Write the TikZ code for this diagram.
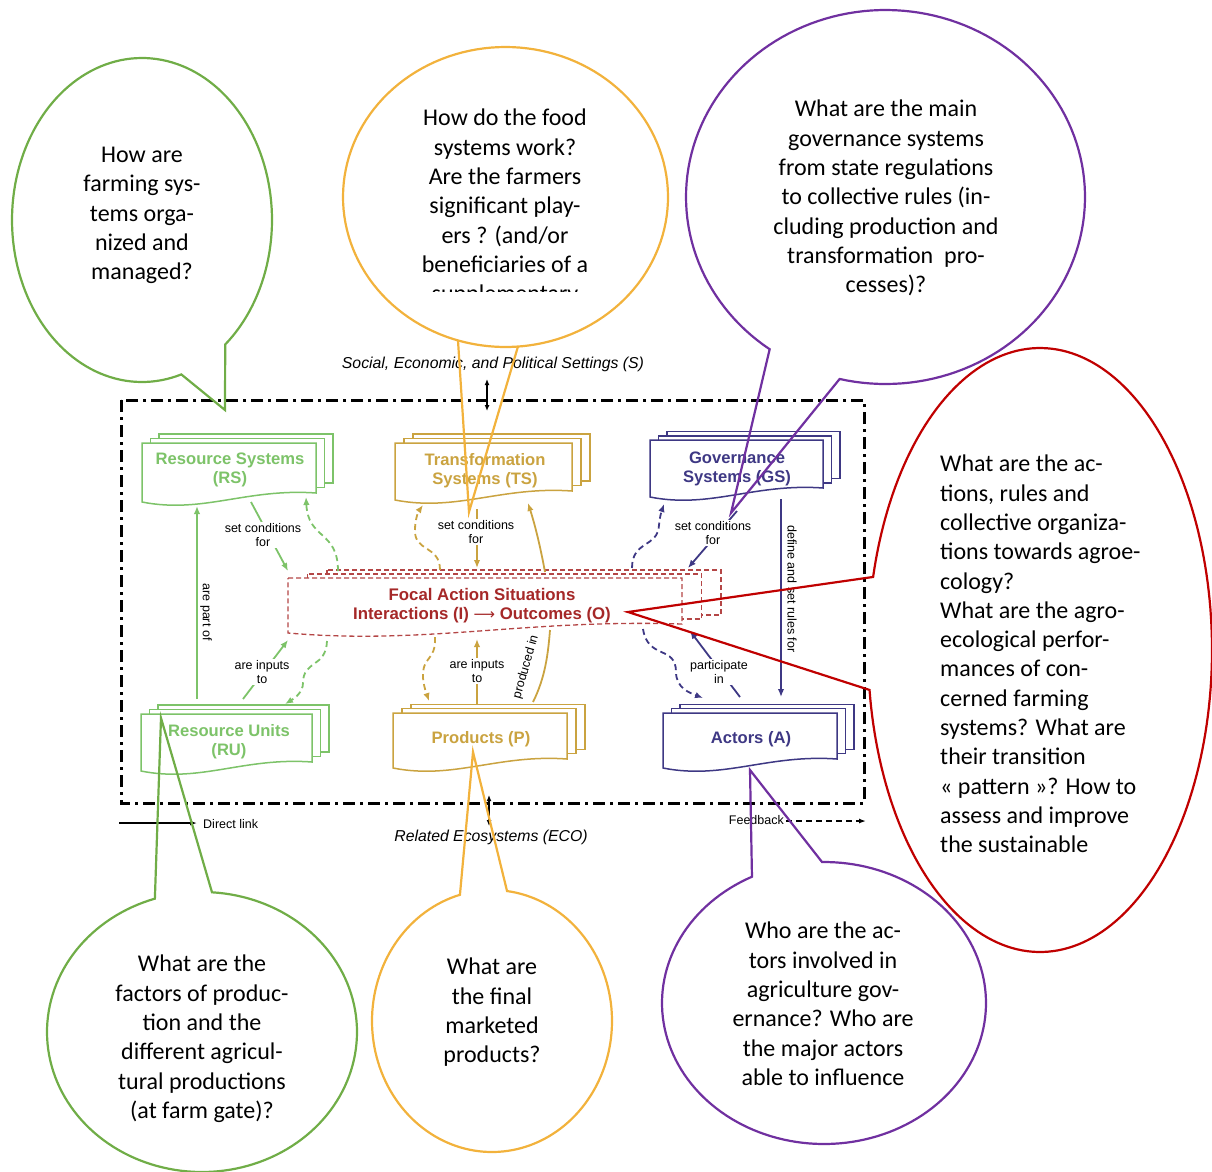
\documentclass[tikz,border=0pt]{standalone}
\usepackage{fontspec}
\setmainfont{Carlito}
\newfontfamily\arialfont{Liberation Sans}
\newfontfamily\arrowfont{DejaVu Sans}
\usetikzlibrary{arrows.meta}

% bubble colours
\definecolor{bgreen}{RGB}{112,173,71}
\definecolor{borange}{RGB}{242,178,60}
\definecolor{bpurple}{RGB}{112,48,160}
\definecolor{bred}{RGB}{192,0,0}
% framework colours
\definecolor{rsgreen}{RGB}{125,195,105}
\definecolor{tsgold}{RGB}{202,163,64}
\definecolor{gsnavy}{RGB}{62,56,132}
\definecolor{fasred}{RGB}{165,40,40}
\definecolor{fasdash}{RGB}{180,70,70}

% stack of three document sheets: #1 style, #2 left, #3 top, #4 width,
% #5 height at the left edge, #6 x shift, #7 upward shift of each back sheet
\newcommand\docstack[7]{%
  \foreach \k in {2,1}{%
    \draw[#1, fill=white] ({#2+\k*#6},{#3-\k*#7}) rectangle ({#2+\k*#6+#4},{#3-\k*#7+#5-10});
  }%
  \draw[#1, fill=white] (#2,#3) -- ({#2+#4},#3) -- ({#2+#4},{#3+#5-9})
     .. controls ({#2+0.6*#4},{#3+#5-14}) and ({#2+0.35*#4},{#3+#5+12}) .. (#2,{#3+#5}) -- cycle;
}

\begin{document}
\begin{tikzpicture}[x=1pt,y=-1pt,
  bubble/.style={line width=2.2pt},
  qtext/.style={font=\fontsize{24}{29.3}\selectfont, align=center, inner sep=0pt, anchor=north},
  boxtitle/.style={font=\arialfont\bfseries\fontsize{16.6}{19}\selectfont, align=center, inner sep=0pt},
  lbl/.style={font=\arialfont\fontsize{12.5}{14}\selectfont, align=center, inner sep=1pt, fill=white},
  setting/.style={font=\arialfont\itshape\fontsize{15.8}{18}\selectfont, inner sep=0pt},
  conn/.style={line width=1.8pt, -{Latex[length=8pt,width=6.5pt]}},
  dconn/.style={conn, dash pattern=on 6pt off 4pt},
  sheet/.style={line width=1.5pt},
  fassheet/.style={line width=1.3pt, draw=fasdash, dash pattern=on 5pt off 3pt}
]
\useasboundingbox (0,0) rectangle (1212,1171);

% ---------- system boundary ----------
\draw[line width=3pt, dash pattern=on 12pt off 5pt on 3pt off 5pt] (121,400) rectangle (864,803);

\node[setting] (S) at (493,364) {Social, Economic, and Political Settings (S)};
\node[setting] (ECO) at (491,837) {Related Ecosystems (ECO)};
\coordinate (s-top) at (487,379);
\coordinate (s-bot) at (487,411);
\draw[line width=1.4pt, {Latex[length=6pt,width=5pt]}-{Latex[length=6pt,width=5pt]}] (s-top) -- (s-bot);
\coordinate (eco-top) at (489,795);
\coordinate (eco-bot) at (489,826);
\draw[line width=1.4pt, {Latex[length=6pt,width=5pt]}-{Latex[length=6pt,width=5pt]}] (eco-bot) -- (eco-top);

% ---------- legend ----------
\coordinate (dl-a) at (119,823);
\coordinate (dl-b) at (197,823);
\draw[line width=1.3pt, -{Latex[length=7pt,width=5pt]}] (dl-a) -- (dl-b);
\node[font=\arialfont\fontsize{12.5}{14}\selectfont, anchor=west, inner sep=0pt] (dlink) at (203,824) {Direct link};
\node[font=\arialfont\fontsize{12.5}{14}\selectfont, anchor=east, inner sep=0pt] (fback) at (784,820) {Feedback};
\coordinate (fb-b) at (866,821);
\draw[line width=1.5pt, dash pattern=on 6pt off 4pt, -{Latex[length=7pt,width=5pt]}] (fback.east) ++(2,1) -- (fb-b);

% ---------- sheets ----------
\docstack{sheet, draw=rsgreen}{142}{443}{174}{59}{8.5}{4.5}
\docstack{sheet, draw=tsgold}{395}{443}{177}{57}{9}{4.5}
\docstack{sheet, draw=gsnavy}{650}{440}{173}{57}{8.5}{4.2}
\docstack{sheet, draw=rsgreen}{141}{714}{171}{57}{8.5}{4.5}
\docstack{sheet, draw=tsgold}{393}{713}{174}{55}{9}{4.3}
\docstack{sheet, draw=gsnavy}{663}{713}{174}{55}{8.5}{4.3}
\docstack{fassheet}{288}{578}{394}{55}{19.5}{4}

\node[boxtitle, text=rsgreen] (RS) at (230,470) {Resource Systems\\(RS)};
\node[boxtitle, text=tsgold] (TS) at (485,471) {Transformation\\Systems (TS)};
\node[boxtitle, text=gsnavy] (GS) at (737,468.5) {Governance\\Systems (GS)};
\node[boxtitle, text=rsgreen] (RU) at (229,742) {Resource Units\\(RU)};
\node[boxtitle, text=tsgold] (P) at (481,739) {Products (P)};
\node[boxtitle, text=gsnavy] (A) at (751,739) {Actors (A)};
\node[boxtitle, text=fasred, font=\arialfont\bfseries\fontsize{16.8}{19}\selectfont] (FAS) at (482,606)
  {Focal Action Situations\\Interactions (I) {\arrowfont\mdseries\fontsize{15}{19}\selectfont ⟶} Outcomes (O)};

% ---------- anchor points of the links ----------
\coordinate (rs-a) at (251,502);  \coordinate (fas-a) at (288,571);
\coordinate (fas-b) at (338,571); \coordinate (rs-b) at (306,497);
\coordinate (ru-a) at (197,699);  \coordinate (rs-c) at (197,506);
\coordinate (ru-b) at (243,699);  \coordinate (fas-c) at (288,640);
\coordinate (fas-d) at (327,641); \coordinate (ru-c) at (285,704);
\coordinate (fas-e) at (440,570); \coordinate (ts-a) at (423,505);
\coordinate (ts-b) at (477,509);  \coordinate (fas-f) at (477,568);
\coordinate (fas-g) at (545,572); \coordinate (ts-c) at (528,503);
\coordinate (fas-h) at (435,637); \coordinate (p-a) at (429,701);
\coordinate (p-b) at (477,704);   \coordinate (fas-i) at (477,639);
\coordinate (p-c) at (533,702);   \coordinate (fas-j) at (550,630);
\coordinate (fas-k) at (632,568); \coordinate (gs-a) at (664,504);
\coordinate (gs-b) at (737,511);  \coordinate (fas-l) at (688,568);
\coordinate (gs-c) at (781,499);  \coordinate (a-a) at (781,697);
\coordinate (fas-m) at (643,629); \coordinate (a-b) at (703,698);
\coordinate (a-c) at (740,697);   \coordinate (fas-n) at (690,631);

% resource systems / units
\draw[conn, rsgreen] (rs-a) -- (fas-a);
\draw[dconn, rsgreen] (fas-b) .. controls (338,530) and (308,540) .. (rs-b);
\draw[conn, rsgreen] (ru-a) -- (rs-c);
\draw[conn, rsgreen] (ru-b) -- (fas-c);
\draw[dconn, rsgreen] (fas-d) .. controls (326,668) and (303,660) .. (303,683) .. controls (303,692) and (295,698) .. (ru-c);
\node[lbl] (l-rs) at (263,535) {set conditions\\for};
\node[lbl, fill=none, rotate=-90] (l-part) at (206,612) {are part of};
\node[lbl] (l-ru) at (262,672) {are inputs\\to};

% transformation systems / products
\draw[dconn, tsgold] (fas-e) .. controls (440,545) and (414,552) .. (415,530) .. controls (415,520) and (418,512) .. (ts-a);
\draw[conn, tsgold] (ts-b) -- (fas-f);
\draw[conn, tsgold] (fas-g) .. controls (540,545) and (535,525) .. (ts-c);
\draw[dconn, tsgold] (fas-h) .. controls (436,662) and (422,655) .. (423,678) .. controls (424,688) and (427,695) .. (p-a);
\draw[conn, tsgold] (p-b) -- (fas-i);
\draw[line width=1.8pt, tsgold] (p-c) .. controls (545,678) and (548,655) .. (fas-j);
\node[lbl] (l-ts) at (476,532) {set conditions\\for};
\node[lbl] (l-p) at (477,671) {are inputs\\to};
\node[lbl, fill=none, inner sep=0pt, rotate=74] (l-prod) at (526,667) {produced in};

% governance systems / actors
\draw[dconn, gsnavy] (fas-k) .. controls (632,540) and (658,548) .. (659,525) .. controls (660,515) and (662,510) .. (gs-a);
\draw[conn, gsnavy] (gs-b) -- (fas-l);
\draw[conn, gsnavy] (gs-c) -- (a-a);
\draw[dconn, gsnavy] (fas-m) .. controls (648,660) and (676,645) .. (676,672) .. controls (676,688) and (690,693) .. (a-b);
\draw[conn, gsnavy] (a-c) -- (fas-n);
\node[lbl] (l-gs) at (713,533) {set conditions\\for};
\node[lbl, fill=none, rotate=-90] (l-rules) at (792,589) {define and set rules for};
\node[lbl] (l-a) at (719,672) {participate\\in};

% ---------- question bubbles ----------
\coordinate (tip-rs) at (225,410);
\coordinate (tip-ts) at (469,512);
\coordinate (tip-gs) at (731,513);
\coordinate (tip-fas) at (628,612);
\coordinate (tip-ru) at (161,718);
\coordinate (tip-p) at (473,752);
\coordinate (tip-a) at (750,770);

\draw[bubble, bgreen] plot[domain=72.4:410.2, samples=150, variable=\t] ({142+130*cos(\t)},{220+162*sin(\t)}) -- (tip-rs) -- cycle;
\draw[bubble, borange] plot[domain=85.6:467, samples=150, variable=\t] ({505.5+162.5*cos(\t)},{197+150*sin(\t)});
\draw[bubble, borange] ({505.5+162.5*cos(85.6)},{197+150*sin(85.6)}) -- (tip-ts) -- ({505.5+162.5*cos(107)},{197+150*sin(107)});
\draw[bubble, bpurple] plot[domain=125.5:463.3, samples=150, variable=\t] ({885.5+199.5*cos(\t)},{197+187*sin(\t)}) -- (tip-gs) -- cycle;
\draw[bubble, bred] plot[domain=194:532.4, samples=200, variable=\t] ({1040+172*cos(\t)},{650+302*sin(\t)}) -- (tip-fas) -- cycle;
\draw[bubble, bgreen] plot[domain=273.7:612.3, samples=150, variable=\t] ({202+155*cos(\t)},{1032+140*sin(\t)}) -- (tip-ru) -- cycle;
\draw[bubble, borange] plot[domain=277.2:614.5, samples=150, variable=\t] ({492+120*cos(\t)},{1021+131*sin(\t)}) -- (tip-p) -- cycle;
\draw[bubble, bpurple] plot[domain=269.3:603.6, samples=150, variable=\t] ({824+162*cos(\t)},{1003+141*sin(\t)}) -- (tip-a) -- cycle;

\node[qtext] (q-rs) at (142,147) {How are\\farming sys-\\tems orga-\\nized and\\managed?};
\begin{scope}
  \clip (340,60) rectangle (670,291);
  \node[qtext] (q-ts) at (505,109) {How do the food\\systems work?\\Are the farmers\\significant play-\\ers ? (and/or\\beneficiaries of a\\supplementary};
\end{scope}
\node[qtext] (q-gs) at (886,100) {What are the main\\governance systems\\from state regulations\\to collective rules (in-\\cluding production and\\transformation\ \ pro-\\cesses)?};
\node[qtext, align=left, anchor=north west] (q-fas) at (940,455) {What are the ac-\\tions, rules and\\collective organiza-\\tions towards agroe-\\cology?\\What are the agro-\\ecological perfor-\\mances of con-\\cerned farming\\systems? What are\\their transition\\« pattern »? How to\\assess and improve\\the sustainable};
\node[qtext] (q-ru) at (202,955) {What are the\\factors of produc-\\tion and the\\different agricul-\\tural productions\\(at farm gate)?};
\node[qtext] (q-p) at (492,958) {What are\\the final\\marketed\\products?};
\node[qtext] (q-a) at (823,922) {Who are the ac-\\tors involved in\\agriculture gov-\\ernance? Who are\\the major actors\\able to influence};
\end{tikzpicture}
\end{document}
